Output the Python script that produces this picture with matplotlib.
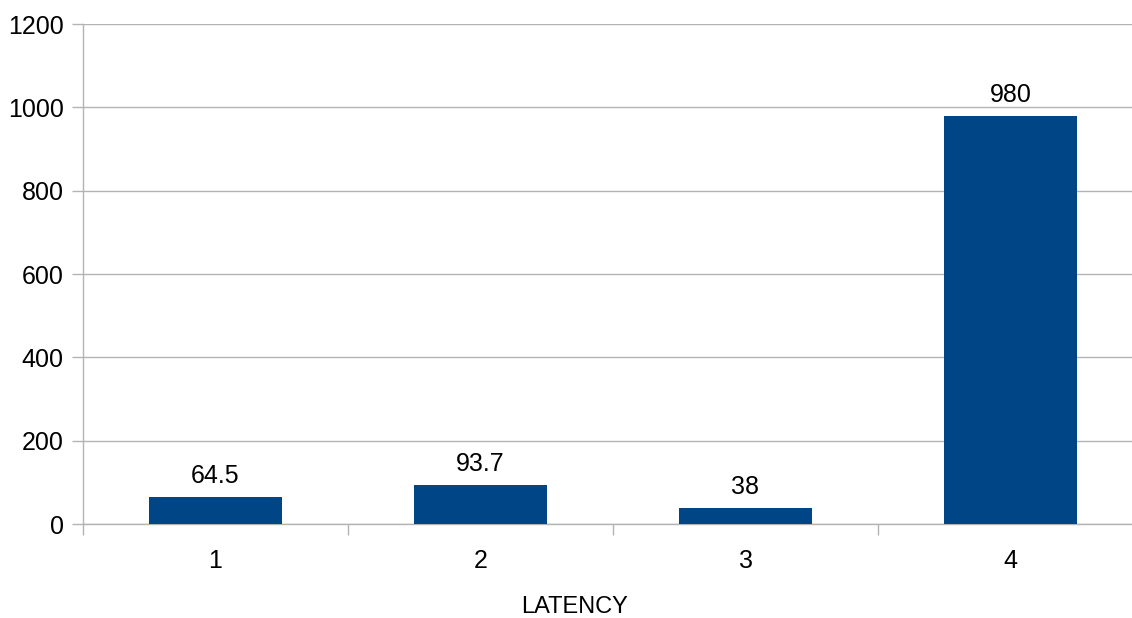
import matplotlib
matplotlib.use("Agg")
import matplotlib.pyplot as plt

categories = ["1", "2", "3", "4"]
latency = [64.5, 93.7, 38, 980]
value_labels = ["64.5", "93.7", "38", "980"]

BAR_COLOR = "#004586"
GRID_COLOR = "#b3b3b3"

plt.rcParams["font.family"] = ["Liberation Sans", "DejaVu Sans"]

fig = plt.figure(figsize=(11.32, 6.18), dpi=100)
# plot area runs slightly past the right edge of the figure
ax = fig.add_axes([83 / 1132, 1 - 524 / 618, 1060 / 1132, 500 / 618])

x = list(range(1, len(categories) + 1))
ax.bar(x, latency, width=0.5, color=BAR_COLOR, zorder=3)

for xi, v, lab in zip(x, latency, value_labels):
    ax.annotate(lab, (xi, v), xytext=(0, 10), textcoords="offset points",
                ha="center", va="baseline", fontsize=18, color="black")

ax.set_xlim(0.5, 4.5)
ax.set_ylim(0, 1200)
ax.set_yticks(range(0, 1201, 200))
ax.set_xticks(x)
ax.set_xticklabels(categories)
ax.set_xticks([0.5, 1.5, 2.5, 3.5, 4.5], minor=True)

ax.yaxis.grid(True, color=GRID_COLOR, linewidth=1, zorder=0)
ax.set_axisbelow(True)

for side in ("top", "right"):
    ax.spines[side].set_visible(False)
for side in ("left", "bottom"):
    ax.spines[side].set_color(GRID_COLOR)
    ax.spines[side].set_linewidth(1)

ax.tick_params(axis="y", length=8, width=1, color=GRID_COLOR, pad=6,
               labelsize=18)
ax.tick_params(axis="x", which="major", length=0, pad=18, labelsize=18)
ax.tick_params(axis="x", which="minor", length=8, width=1, color=GRID_COLOR)

fig.text(575 / 1132, 1 - 607 / 618, "LATENCY", ha="center", va="center",
         fontsize=17)

fig.savefig("out.png", dpi=100)
plt.close(fig)
